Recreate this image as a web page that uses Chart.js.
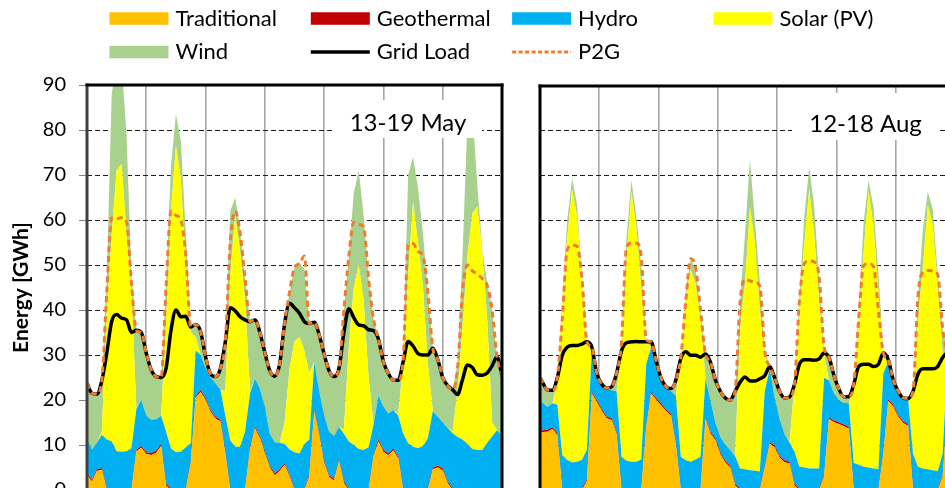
<!DOCTYPE html>
<html><head><meta charset="utf-8">
<script src="https://cdn.jsdelivr.net/npm/chart.js@4.4.0/dist/chart.umd.min.js"></script>
<style>
html,body{margin:0;padding:0;background:#fff;overflow:hidden;}
#wrap{position:relative;width:945px;height:488px;overflow:hidden;background:#fff;}
#c1{position:absolute;left:0;top:0;}
#c2{position:absolute;left:530px;top:0;}
#fl{position:absolute;left:-999px;font-family:Lato;}
</style></head><body>
<div id="wrap"><canvas id="c1" width="945" height="500"></canvas><canvas id="c2" width="430" height="500"></canvas></div>
<span id="fl">Lato <b>Lato</b></span>
<script>
// ---------- text ----------
const seriesNames = ['Traditional','Geothermal','Hydro','Solar (PV)','Wind','Grid Load','P2G'];
const panelTitles = ['13-19 May','12-18 Aug'];
const yAxisTitle = 'Energy [GWh]';
const yTickValues = [0,10,20,30,40,50,60,70,80,90];
const dayBoundaries = [0,24,48,72,96,120,144,168];

// ---------- 13-19 May (hour of week) ----------
const hoursMay = [0,2,4,6,8,10,12,14,16,18,20,22,24,26,28,30,32,34,36,38,40,42,44,46,48,50,52,54,56,58,60,62,64,66,68,70,72,74,76,78,80,82,84,86,88,90,92,94,96,98,100,102,104,106,108,110,112,114,116,118,120,122,124,126,128,130,132,134,136,138,140,142,144,146,148,150,152,154,156,158,160,162,164,166,168];
const tradMay = [3.3,1.9,4.2,4.5,0,0,0,0,0,0, 8.6,9.4,8.0,7.8,8.3,9.8,1,0,0,0, 0,6,20.5,21.8,20.0,17.4,15.9,15.2,8,0, 0,0,0,9,13.7,11.5,8.2,5.0,3.3,4.2, 5.6,3.0,0,0,0,3,17.5,12.1,6.1,2.9, 2.1,6.4,1.5,0,0,0,0,0,7.5,10.8, 8.5,7.7,8.8,7,0,0,0,0,0,0, 4.6,5.0,4.4,1.5,0,0,0,0,0,0, 0,0,0,0,0];
const geoMay = [0.4,0.4,0.4,0.4,0.4,0.4,0.4,0.4,0.4,0.4, 0.4,0.4,0.4,0.4,0.4,0.4,0.4,0.4,0.4,0.4, 0.4,0.4,0.4,0.4,0.4,0.4,0.4,0.4,0.4,0.4, 0.4,0.4,0.4,0.4,0.4,0.4,0.4,0.4,0.4,0.4, 0.4,0.4,0.4,0.4,0.4,0.4,0.4,0.4,0.4,0.4, 0.4,0.4,0.4,0.4,0.4,0.4,0.4,0.4,0.4,0.4, 0.4,0.4,0.4,0.4,0.4,0.4,0.4,0.4,0.4,0.4, 0.4,0.4,0.4,0.4,0.4,0.4,0.4,0.4,0.4,0.4, 0.4,0.4,0.4,0.4,0.4];
const hydroMay = [7.8,6.7,5.9,7.4,10.8,10.4,8.2,8.1,8.2,8.9, 9.0,10.2,8.1,7.4,7.0,6.3,11.6,8.8,8.0,8.1, 9.1,4.0,10.1,7.8,6.6,7.2,7.4,6.7,8.1,10.6, 9.2,9.2,12.6,12.1,10.7,10.6,9.9,7.1,6.9,5.9, 4.2,5.6,8.0,7.7,9.8,7.8,10.6,9.5,10.0,9.7, 9.5,7.2,10.6,10.4,9.6,8.7,8.5,9.1,6.6,9.8, 9.6,8.9,8.6,9.1,12.1,10.0,9.2,8.9,9.4,11.1, 12.5,10.9,10.2,11.9,12.2,11.4,10.8,9.8,8.7,8.5, 8.5,10.1,11.5,12.9,11.6];
const solarMay = [0,0,0,0.7,28.8,46.2,62.4,64,48.4,34.7, 0,0,0,0,0,0,25,52.8,68.1,60.5, 40.5,24.6,3,0,0,0,0,0,5.5,37, 51.4,43.4,29,0.5,0,0,0,0,0,0, 4.8,18,24.6,25.9,20.8,14.8,0,0,0,0, 0,0,1,21.2,35,40.9,33.1,15.5,0,0, 0,0,0,0.5,15.5,37.6,54.4,45.7,35.2,16.5, 0,0,0,0,0.4,10.2,24.8,41.8,52.4,54.1, 44.1,27.5,3.1,0,0];
const windMay = [12.2,12.5,10.8,11.3,7,31,24,22.5,22,4, 17.5,15,13.9,11.1,9.5,8.5,8,10,7,8.5, 7,1.2,2.8,5.2,2.6,0.8,1.5,4.7,11,14, 4,5,5,15.4,13,12.5,12,14,14.7,17.5, 22,17,16.5,16.5,18,11,8.8,12.5,13.7,13.5, 13.2,13,26.5,20,21,21,19,22,23.5,12.5, 10,8.9,6.6,7.4,1,22,10,12,12,16, 14,12.7,10,9.4,9.3,6,16,30,22.5,5, 0.5,8,25,16.3,13.3];
const loadMay = [23.7,21.5,21.3,24.3,30.4,37.5,39.0,38.2,37.8,35.0, 35.5,35.0,30.4,26.7,25.2,25.0,27.0,35.5,40.0,38.5, 38.6,36.2,36.8,35.2,29.6,25.8,25.2,27.0,33.0,40.5, 39.8,38.5,37.8,37.4,37.8,35.0,30.5,26.5,25.3,28.0, 37.0,41.5,40.5,39.3,37.4,37.0,37.3,34.5,30.2,26.5, 25.2,27.0,35.0,40.3,38.3,36.7,36.5,35.6,35.4,33.5, 28.5,25.9,24.4,24.4,28.5,33.0,32.0,30.3,30.0,30.0, 31.5,29.0,25.0,23.2,22.3,21.2,24.5,27.8,27.2,25.6, 25.5,26.0,27.6,29.6,25.3];
const p2gMay = [23.7,21.5,21.3,24.3,44,60.5,60.3,60.5,59.5,46, 35.5,35.0,30.4,26.7,25.2,25.0,45,62,61,60, 52,36.2,36.8,35.2,29.6,25.8,25.2,27.0,33.0,55, 62,57,47,37.4,37.8,35.0,30.5,26.5,25.3,28.0, 37.0,44,49.5,50.3,52,37.0,37.3,34.5,30.2,26.5, 25.2,27.0,40,52,59.5,59,58.5,47,38,33.5, 28.5,25.9,24.4,24.4,29,54.5,54.8,53,52,44, 31.5,29.0,25.0,23.2,22.3,27,44,50,48.7,48, 47,45.5,40,29.6,25.3];

// ---------- 12-18 Aug (hour of week) ----------
const hoursAug = [0,1,3,5,7,9,11,13,15,17,19,21,23,25,27,29,31,33,35,37,39,41,43,45,47,49,51,53,55,57,59,61,63,65,67,69,71,73,75,77,79,81,83,85,87,89,91,93,95,97,99,101,103,105,107,109,111,113,115,117,119,121,123,125,127,129,131,133,135,137,139,141,143,145,147,149,151,153,155,157,159,161,163,165,167,168];
const tradAug = [12.9,12.9,13.0,13.6,12.2,0,0,0,0,0, 2,21.5,19.6,17.6,16.0,15.6,12.5,0,0,0, 0,0,14,21.5,20.1,18.9,17.6,16.6,10,0, 0,0,0,0,15.9,12.6,11.1,7.9,6.1,5.0, 1,0,0,0,0,0,5,10.3,9.5,7.2, 6.2,5.9,1,0,0,0,0,0,3,15.8, 15.1,14.7,14.2,13.7,0,0,0,0,0,0, 8,19.8,18.6,16.3,14.9,14.3,0,0,0,0, 0,0,3,18,17,16.5];
const geoAug = [0.4,0.4,0.4,0.4,0.4,0.4,0.4,0.4,0.4,0.4, 0.4,0.4,0.4,0.4,0.4,0.4,0.4,0.4,0.4,0.4, 0.4,0.4,0.4,0.4,0.4,0.4,0.4,0.4,0.4,0.4, 0.4,0.4,0.4,0.4,0.4,0.4,0.4,0.4,0.4,0.4, 0.4,0.4,0.4,0.4,0.4,0.4,0.4,0.4,0.4,0.4, 0.4,0.4,0.4,0.4,0.4,0.4,0.4,0.4,0.4,0.4, 0.4,0.4,0.4,0.4,0.4,0.4,0.4,0.4,0.4,0.4, 0.4,0.4,0.4,0.4,0.4,0.4,0.4,0.4,0.4,0.4, 0.4,0.4,0.4,0.4,0.4,0.4];
const hydroAug = [6.7,6.2,5.1,5.3,6.4,7.4,6.3,5.7,5.9,6.3, 6.6,9.6,5.8,5.5,6.1,6.2,9.1,7.0,6.1,5.9, 5.9,6.4,13.6,9.9,7.3,5.5,4.8,5.0,10.6,7.0, 6.2,5.9,6.4,7.0,8.5,7.0,3.5,3.5,3.6,3.5, 6.1,4.4,4.2,4.0,3.9,3.7,16.6,16.3,10.6,8.2, 5.8,4.3,7.1,4.8,4.6,4.4,4.4,4.4,21.6,8.2, 6.0,4.9,4.8,5.2,5.6,5.2,4.8,4.6,4.4,4.2, 17.6,8.3,5.3,5.0,5.0,5.5,7.6,4.8,4.4,4.2, 4.0,3.8,4.6,10.6,9.1,8.1];
const solarAug = [0,0,0,0,5,33.2,49.3,60.9,54.7,39.3, 24,0,0,0,0,0,0,23.6,44.5,60.2, 52.2,38.2,5,0,0,0,0,0,0,22.1, 36.4,42.7,39.2,30.6,0,0,0,0,0,0, 0,31.2,41.4,58.6,50.7,35.9,8,0,0,0, 0,0,15,34.8,50,62.2,52.2,37.2,5.5,0, 0,0,0,0,17.5,32.4,47.8,61.5,54.2,39.4, 4,0,0,0,0,0,14,32.8,44.7,58.9, 54.6,41.3,22,0,0,0];
const windAug = [5,4.5,3.8,2.9,1,1,4,2.5,2.5,1.5, 0,0.3,0.2,0.1,0.2,0.8,4,2,5,2.5, 2.5,5,0.5,1.2,1.0,0.2,0.2,0.6,3.5,0, 1.5,2.5,3,2,5.5,8.5,9.5,10.2,10.4,11.1, 14.5,6,11,10.5,5,6,1,0.5,4.5,6.2, 8.1,10.1,0,3,6,5,6,5,1.5,5.1, 4,2.5,1.4,1.5,0,2,6.5,2.5,4,4.5, 0.5,0.5,0.2,0.3,0.2,0.2,0,5,8.5,3, 3.5,2.5,6,1.5,1.5,1.5];
const loadAug = [25.0,24.0,22.3,22.2,25.0,30.0,31.8,32.2,32.2,32.5, 33.0,31.8,26.0,23.6,22.7,23.0,26.0,31.0,32.8,33.0, 33.1,33.0,33.0,33.0,28.8,25.0,23.0,22.6,24.5,29.3, 30.8,30.0,30.0,29.6,30.3,28.5,24.5,22.0,20.5,20.0, 22.0,24.0,25.2,24.3,24.3,24.8,25.5,27.5,25.0,22.0, 20.5,20.7,23.5,28.0,29.0,29.0,28.9,29.2,30.5,29.5, 25.5,22.5,20.8,20.8,23.5,27.5,28.0,28.0,27.5,28.0, 30.5,29.0,24.5,22.0,20.5,20.4,22.0,25.8,27.0,27.0, 27.0,27.5,29.5,30.5,28.0,26.5];
const p2gAug = [25.0,24.0,22.3,22.2,25.0,38,53.5,54.5,54.3,47, 33.0,31.8,26.0,23.6,22.7,23.0,26.0,33,54,55, 55,52,33.5,33.0,28.8,25.0,23.0,22.6,24.5,29.5, 42,51.5,49.5,40,30.3,28.5,24.5,22.0,20.5,20.0, 22.0,42,47,46.6,46.3,45.5,31,27.5,25.0,22.0, 20.5,20.7,23.5,42,50.5,51,50.8,47.5,32,29.5, 25.5,22.5,20.8,20.8,23.5,38,50,50.4,49.8,40, 30.5,29.0,24.5,22.0,20.5,20.4,22.0,43,48.5,48.9, 48.8,48,36,30.5,28.0,26.5];

// ---------- styles ----------
const COLORS = {trad:'#FFC000', geo:'#C00000', hydro:'#00B0F0', solar:'#FFFF00', wind:'#A9D18E', load:'#000000', p2g:'#ED7D31'};
const FONT = 'Lato';

function areaDs(label, data, color, fill){
  return {type:'line', label, data, backgroundColor: color, borderColor: color, borderWidth: 0,
          fill, stack:'gen', order: 5, pointRadius: 0, tension: 0};
}
function lineDs(label, data, color, width, dash, order){
  return {type:'line', label, data, borderColor: color, backgroundColor: color, borderWidth: width,
          borderDash: dash, borderCapStyle:'butt', fill: false, stack: 'line_' + label, order,
          pointRadius: 0, cubicInterpolationMode: 'monotone'};
}
function datasetsFor(p){
  return [
    areaDs(seriesNames[0], p.trad, COLORS.trad, 'origin'),
    areaDs(seriesNames[1], p.geo, COLORS.geo, '-1'),
    areaDs(seriesNames[2], p.hydro, COLORS.hydro, '-1'),
    areaDs(seriesNames[3], p.solar, COLORS.solar, '-1'),
    areaDs(seriesNames[4], p.wind, COLORS.wind, '-1'),
    lineDs(seriesNames[5], p.load, COLORS.load, 3.5, [], 1),
    lineDs(seriesNames[6], p.p2g, COLORS.p2g, 3, [6,4], 0)
  ];
}

// frame + panel title plugin
const framePlugin = {
  id: 'frame',
  afterDatasetsDraw(chart, args, o){
    const ctx = chart.ctx, a = chart.chartArea;
    ctx.save();
    ctx.fillStyle = '#fff';
    ctx.fillRect(o.box[0], o.box[1], o.box[2], o.box[3]);
    ctx.fillStyle = '#000';
    ctx.font = o.titleFont;
    ctx.textAlign = 'center';
    ctx.textBaseline = 'alphabetic';
    ctx.fillText(o.title, o.textX, o.textY);
    ctx.lineWidth = 3;
    ctx.lineCap = 'square';
    const seg = (x1,y1,x2,y2,c)=>{ctx.strokeStyle=c;ctx.beginPath();ctx.moveTo(x1,y1);ctx.lineTo(x2,y2);ctx.stroke();};
    if (o.left) seg(a.left, a.top, a.left, a.bottom + 5, o.left);
    if (o.top) seg(a.left, a.top, a.right, a.top, o.top);
    if (o.right) seg(a.right, a.top, a.right, a.bottom + 5, o.right);
    ctx.restore();
  }
};

// legend in a fixed grid (4 columns)
const gridLegend = {
  id: 'gridLegend',
  afterDraw(chart, args, o){
    if (!o || !o.show) return;
    const ctx = chart.ctx;
    ctx.save();
    ctx.font = o.font;
    ctx.textBaseline = 'alphabetic';
    ctx.textAlign = 'left';
    chart.data.datasets.forEach((ds, i) => {
      const col = i % 4, row = Math.floor(i / 4);
      const x = o.x0 + col * o.colW, y = o.y0 + row * o.rowH;
      if (ds.fill === false) {
        ctx.strokeStyle = ds.borderColor;
        ctx.lineWidth = ds.borderWidth;
        ctx.setLineDash(ds.borderDash && ds.borderDash.length ? [4,2.5] : []);
        ctx.beginPath(); ctx.moveTo(x, y); ctx.lineTo(x + o.boxW, y); ctx.stroke();
        ctx.setLineDash([]);
      } else {
        ctx.fillStyle = ds.backgroundColor;
        ctx.fillRect(x, y - o.boxH / 2, o.boxW, o.boxH);
      }
      ctx.fillStyle = '#000';
      ctx.fillText(ds.label, x + o.boxW + o.gap, y + o.base);
    });
    ctx.restore();
  }
};

function makeChart(id, labels, p, isLeft, pad, frameOpts){
  return new Chart(document.getElementById(id), {
    type: 'line',
    data: { labels, datasets: datasetsFor(p) },
    plugins: [framePlugin, gridLegend],
    options: {
      responsive: false, animation: false, devicePixelRatio: 1, events: [],
      layout: { padding: pad },
      plugins: {
        legend: { display: false }, tooltip: { enabled: false },
        frame: frameOpts,
        gridLegend: { show: isLeft, font: '22px ' + FONT, x0: 109.5, colW: 201.3, y0: 18.5, rowH: 33.6,
                      boxW: 59, boxH: 12.5, gap: 7, base: 7 }
      },
      scales: {
        x: {
          type: 'linear', min: 0, max: 168,
          afterBuildTicks(s){ s.ticks = dayBoundaries.map(v => ({value: v})); },
          ticks: { display: false },
          grid: { color: '#a6a6a6', lineWidth: 1.6, drawTicks: false },
          border: { display: false },
          afterFit(s){ s.height = 10; s.paddingLeft = 0; s.paddingRight = 0; }
        },
        y: {
          stacked: true, min: 0, max: 90,
          afterBuildTicks(s){ s.ticks = yTickValues.map(v => ({value: v})); },
          ticks: { display: isLeft, color: '#000', padding: 13, font: { family: FONT, size: 20 } },
          grid: { color: '#1e1e1e', lineWidth: 1, drawTicks: isLeft, tickLength: 8, tickColor: '#808080' },
          border: { display: false, dash: [5, 3] },
          title: { display: isLeft, text: yAxisTitle, color: '#000', padding: { top: 9, bottom: 0 },
                   font: { family: FONT, size: 21, weight: 'bold' } },
          afterFit(s){ s.width = isLeft ? 87 : 0; s.paddingTop = 0; s.paddingBottom = 0; }
        }
      }
    }
  });
}

function draw(){
  makeChart('c1', hoursMay,
    {trad: tradMay, geo: geoMay, hydro: hydroMay, solar: solarMay, wind: windMay, load: loadMay, p2g: p2gMay},
    true, {top: 85, right: 443, bottom: 0, left: 0},
    {title: panelTitles[0], titleFont: '24px ' + FONT, box: [333, 100, 149, 38], textX: 408, textY: 131,
     left: '#404040', top: '#000', right: '#000'});
  makeChart('c2', hoursAug,
    {trad: tradAug, geo: geoAug, hydro: hydroAug, solar: solarAug, wind: windAug, load: loadAug, p2g: p2gAug},
    false, {top: 86, right: 5, bottom: 0, left: 10},
    {title: panelTitles[1], titleFont: '24px ' + FONT, box: [262, 93, 148, 47], textX: 335.5, textY: 132,
     left: '#000', top: '#000', right: '#000'});
}
let drawn = false;
function go(){ if (!drawn) { drawn = true; draw(); } }
if (document.fonts && document.fonts.load) {
  Promise.all([document.fonts.load('20px Lato'), document.fonts.load('bold 21px Lato')]).then(go, go);
  setTimeout(go, 1500);
} else { go(); }
</script>
</body></html>
